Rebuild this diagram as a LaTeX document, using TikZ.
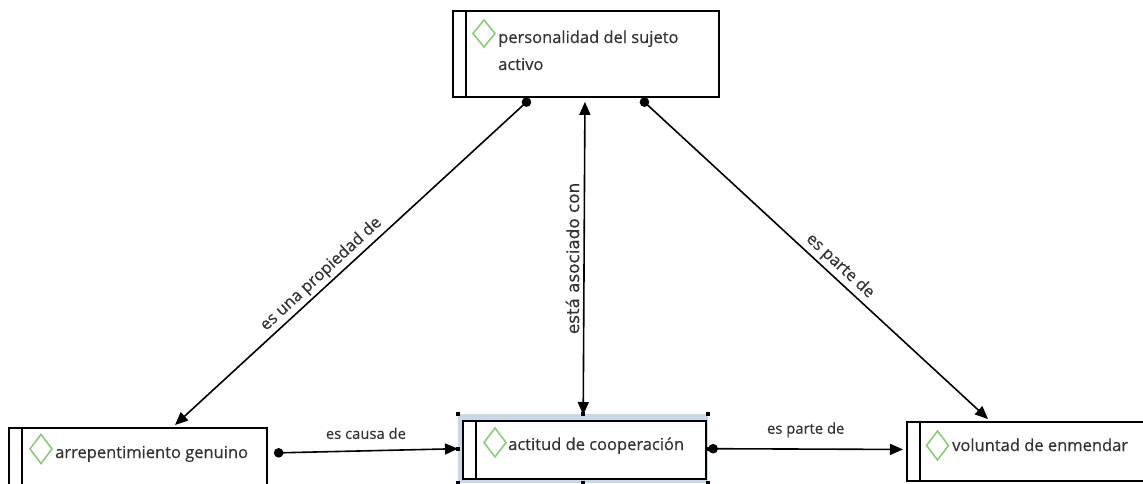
\documentclass[tikz,border=0pt]{standalone}
\usepackage{fontspec}
\setmainfont{Open Sans}[FakeBold=0.45]
\newfontfamily\vfont{DejaVu Sans}[FakeBold=0.2]
\usetikzlibrary{arrows.meta,calc}
\definecolor{txt}{HTML}{333333}
\definecolor{dgreen}{HTML}{8CCB7C}
\definecolor{selblue}{HTML}{C9D8E7}
\begin{document}
\begin{tikzpicture}[x=1pt,y=-1pt,
  box/.style={draw=black, line width=1.9pt, fill=white, inner sep=0pt, anchor=north west},
  sel/.style={fill=selblue, draw=none, inner sep=0pt, anchor=north west},
  bar/.style={line width=1.4pt},
  dia/.style={draw=dgreen, line width=1.6pt, line join=miter},
  ntext/.style={anchor=base west, text=txt, font=\fontsize{16.5}{27}\selectfont, inner sep=0pt},
  lab/.style={text=txt, font=\fontsize{14.8}{18}\selectfont, inner sep=3pt},
  dlab/.style={text=txt, font=\fontsize{16.5}{20}\selectfont, inner sep=3pt},
  vlab/.style={text=txt, font=\vfont\fontsize{16.8}{18}\selectfont, inner sep=4pt},
  conn/.style={line width=1.6pt, {Circle[length=9.5pt]}-{Triangle[length=13pt,width=11pt]}},
  both/.style={line width=1.6pt, {Triangle[length=13pt,width=11pt]}-{Triangle[length=13pt,width=11pt]}},
  handle/.style={fill=black, draw=none, minimum size=4pt, inner sep=0pt},
]
\useasboundingbox (0,0) rectangle (1143,484);
\clip (0,0) rectangle (1143,484);
\fill[white] (0,0) rectangle (1143,484);

% boxes
\node[box, minimum width=266pt, minimum height=86pt] (top) at (452,10) {};
\node[box, minimum width=258pt, minimum height=60pt] (left) at (8,427) {};
\node[sel, minimum width=250pt, minimum height=69pt] (mid) at (458,414) {};
\node[box, minimum width=243pt, minimum height=58pt] (midbox) at (462,420) {};
\node[box, minimum width=250pt, minimum height=59pt] (right) at (906,421) {};

% inner bars
\draw[bar] ([xshift=14pt]top.north west) -- ([xshift=14pt]top.south west);
\draw[bar] ([xshift=14pt]left.north west) -- ([xshift=14pt]left.south west);
\draw[bar] ([xshift=14pt]midbox.north west) -- ([xshift=14pt]midbox.south west);
\draw[bar] ([xshift=14pt]right.north west) -- ([xshift=14pt]right.south west);

% diamonds
\draw[dia] (484,20) -- (495,33.5) -- (484,47) -- (473,33.5) -- cycle;
\draw[dia] (41,434.5) -- (52,449) -- (41,463.5) -- (30,449) -- cycle;
\draw[dia] (495,428) -- (506,442.5) -- (495,457) -- (484,442.5) -- cycle;
\draw[dia] (937.5,431) -- (948.5,445.5) -- (937.5,460) -- (926.5,445.5) -- cycle;

% texts
\node[ntext] (t1) at (498,43) {personalidad del sujeto};
\node[ntext] (t2) at (498,70) {activo};
\node[ntext] (t3) at (55,458) {arrepentimiento genuino};
\node[ntext] (t4) at (508,450) {actitud de cooperación};
\node[ntext] (t5) at (952,451) {voluntad de enmendar};

% selection handles
\foreach \a in {north west,north,north east,west,east,south west,south,south east}
  \node[handle] at (mid.\a) {};

% connectors
\draw[conn] ([xshift=-56pt,yshift=-1pt]top.south) -- node[pos=0.565, rotate=42.8, anchor=south, dlab] {es una propiedad de} ([xshift=167pt,yshift=2pt]left.north west);
\draw[conn] ([xshift=55pt,yshift=-1pt]top.south) -- node[pos=0.55, rotate=-42.8, anchor=south, dlab] {es parte de} ([xshift=82pt,yshift=2pt]right.north west);
\draw[both] ([xshift=-1pt,yshift=-4pt]top.south) -- node[pos=0.5, rotate=90, anchor=south, vlab] {está asociado con} ([yshift=-1pt]mid.north);
\draw[conn] ([xshift=6pt,yshift=5pt]left.east) -- node[midway, above, lab, yshift=8pt] {es causa de} (mid.west);
\draw[conn] (mid.east) -- node[midway, above, lab, yshift=8pt] {es parte de} ([xshift=-3pt,yshift=2pt]right.west);
\end{tikzpicture}
\end{document}
